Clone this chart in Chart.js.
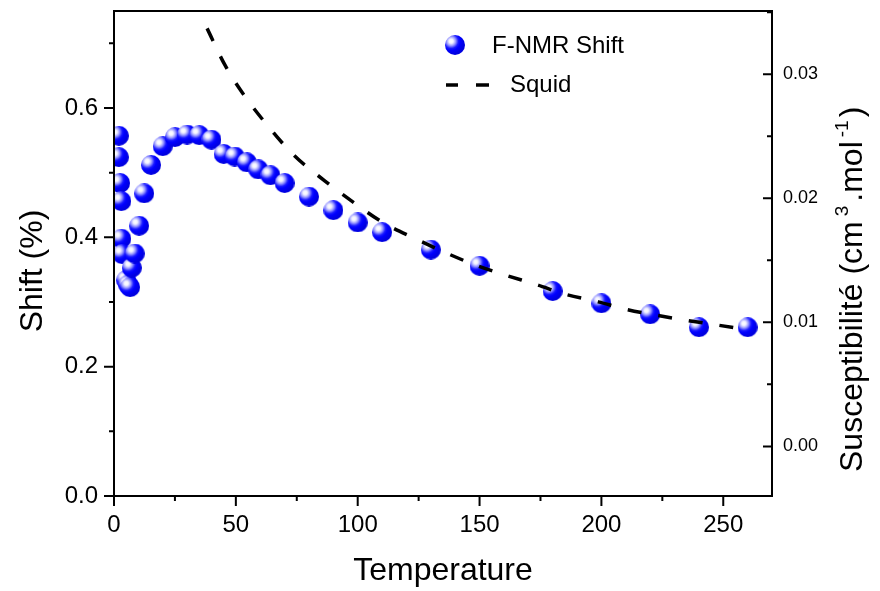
<!DOCTYPE html>
<html>
<head>
<meta charset="utf-8">
<script src="https://cdn.jsdelivr.net/npm/chart.js@4.4.1/dist/chart.umd.min.js"></script>
<style>
  html, body { margin: 0; padding: 0; background: #fff; }
  #wrap { width: 880px; height: 591px; }
</style>
</head>
<body>
<div id="wrap"><canvas id="chart" width="880" height="591"></canvas></div>
<script>
// F-NMR shift (%) against temperature
const nmrTemp = [2.0, 2.0, 2.5, 3.0, 3.0, 3.4, 5.0, 5.8, 6.6, 7.3, 8.5, 10.3, 12.4, 15.2,
  20, 25, 30, 35, 40, 45, 49.5, 54.5, 59.2, 64.2, 70, 80, 90, 100, 110, 130, 150, 180, 200, 220, 240, 260];
const nmrShift = [0.557, 0.524, 0.484, 0.456, 0.398, 0.374, 0.334, 0.327, 0.323, 0.353, 0.375, 0.418, 0.468, 0.512,
  0.541, 0.555, 0.559, 0.558, 0.551, 0.529, 0.525, 0.516, 0.505, 0.496, 0.484, 0.463, 0.442, 0.423, 0.408, 0.381,
  0.356, 0.317, 0.298, 0.281, 0.261, 0.261];

// SQUID susceptibility (cm3/mol) against temperature
const squidTemp = [38.2, 45.5, 53.3, 62.7, 73.9, 86.6, 98.9, 110.4, 123.5, 135.8, 148.8, 161.1,
  173.5, 185.1, 198.7, 210.4, 222, 235.7, 247.3, 260.3];
const squidChi = [0.0337, 0.03075, 0.02833, 0.02594, 0.02346, 0.02139, 0.01958, 0.01804, 0.01676, 0.01564,
  0.01458, 0.01378, 0.01303, 0.01227, 0.01165, 0.01104, 0.01059, 0.01014, 0.00979, 0.00939];

const FONT = '"Liberation Sans", Arial, sans-serif';
Chart.defaults.font.family = FONT;
Chart.defaults.color = '#000';

// shaded blue sphere used as the point marker
function makeBall(r) {
  const c = document.createElement('canvas');
  c.width = c.height = 2 * r;
  const g = c.getContext('2d');
  const hx = r - r * 0.38, hy = r - r * 0.38;
  const grad = g.createRadialGradient(hx, hy, 0, hx, hy, r * 1.3);
  grad.addColorStop(0, '#ffffff');
  grad.addColorStop(0.16, '#f2f2ff');
  grad.addColorStop(0.34, '#9c9cff');
  grad.addColorStop(0.55, '#1a1aff');
  grad.addColorStop(0.7, '#0000ff');
  grad.addColorStop(1, '#0000e0');
  g.fillStyle = grad;
  g.beginPath();
  g.arc(r, r, r, 0, Math.PI * 2);
  g.fill();
  return c;
}
const ball = makeBall(10);

// box, tick marks, axis titles and legend
const decor = {
  id: 'decor',
  afterDatasetsDraw(chart) {
    const { ctx, chartArea: a, scales } = chart;
    ctx.save();
    ctx.strokeStyle = '#000';
    ctx.lineWidth = 2;
    ctx.strokeRect(a.left, a.top, a.right - a.left, a.bottom - a.top);
    ctx.beginPath();
    scales.x.ticks.forEach(t => {
      const px = scales.x.getPixelForValue(t.value);
      ctx.moveTo(px, a.bottom);
      ctx.lineTo(px, a.bottom + (t.label ? 10 : 5));
    });
    scales.y.ticks.forEach(t => {
      const py = scales.y.getPixelForValue(t.value);
      ctx.moveTo(a.left, py);
      ctx.lineTo(a.left - (t.label ? 10 : 5), py);
    });
    scales.y1.ticks.forEach(t => {
      const py = scales.y1.getPixelForValue(t.value);
      ctx.moveTo(a.right, py);
      ctx.lineTo(a.right - (t.label ? 9 : 5), py);
    });
    ctx.stroke();

    ctx.fillStyle = '#000';
    ctx.textBaseline = 'alphabetic';

    // x title
    ctx.font = '32px ' + FONT;
    ctx.textAlign = 'center';
    ctx.fillText('Temperature', (a.left + a.right) / 2, 580);

    // left title
    ctx.save();
    ctx.translate(42, 271);
    ctx.rotate(-Math.PI / 2);
    ctx.fillText('Shift (%)', 0, 0);
    ctx.restore();

    // right title with superscripts
    ctx.save();
    ctx.translate(862, 472);
    ctx.rotate(-Math.PI / 2);
    ctx.textAlign = 'left';
    const parts = [
      ['Susceptibilité (cm', 32, 0, 5],
      ['3', 19, -14, 4],
      ['.mol', 32, 0, 4],
      ['-1', 19, -14, 3],
      [')', 32, 0, 0]
    ];
    let cx = 0;
    parts.forEach(([txt, size, dy, gap]) => {
      ctx.font = size + 'px ' + FONT;
      ctx.fillText(txt, cx, dy);
      cx += ctx.measureText(txt).width + gap;
    });
    ctx.restore();

    // legend
    ctx.drawImage(ball, 455 - 10, 45 - 10);
    ctx.font = '24px ' + FONT;
    ctx.textAlign = 'left';
    ctx.textBaseline = 'middle';
    ctx.fillText('F-NMR Shift', 492, 46);
    ctx.fillText('Squid', 510, 85);
    ctx.lineWidth = 3.5;
    ctx.beginPath();
    ctx.moveTo(446, 85); ctx.lineTo(458, 85);
    ctx.moveTo(476, 85); ctx.lineTo(489, 85);
    ctx.stroke();
    ctx.restore();
  }
};

new Chart(document.getElementById('chart'), {
  type: 'scatter',
  data: {
    datasets: [
      {
        label: 'Squid',
        data: squidTemp.map((t, i) => ({ x: t, y: squidChi[i] })),
        yAxisID: 'y1',
        showLine: true,
        borderColor: '#000',
        borderWidth: 3.5,
        borderDash: [14, 17],
        pointRadius: 0,
        cubicInterpolationMode: 'monotone',
        clip: 0,
        order: 0
      },
      {
        label: 'F-NMR Shift',
        data: nmrTemp.map((t, i) => ({ x: t, y: nmrShift[i] })),
        yAxisID: 'y',
        pointStyle: ball,
        pointRadius: 10,
        clip: 0,
        order: 1
      }
    ]
  },
  options: {
    responsive: false,
    animation: false,
    events: [],
    layout: { padding: { top: 6, left: 0, right: 0, bottom: 0 } },
    plugins: { legend: { display: false }, tooltip: { enabled: false } },
    scales: {
      x: {
        type: 'linear', min: 0, max: 270,
        grid: { display: false, drawTicks: false },
        border: { display: false },
        afterFit: s => { s.height = 95; s.paddingLeft = 0; s.paddingRight = 0; },
        ticks: {
          stepSize: 25, includeBounds: false, autoSkip: false, maxRotation: 0,
          padding: 15, font: { size: 24 },
          callback: v => (v % 50 === 0 ? String(v) : '')
        }
      },
      y: {
        position: 'left', min: 0, max: 0.75,
        grid: { display: false, drawTicks: false },
        border: { display: false },
        afterFit: s => { s.width = 114; s.paddingTop = 0; s.paddingBottom = 0; },
        ticks: {
          stepSize: 0.1, includeBounds: false, autoSkip: false,
          padding: 16, font: { size: 24 },
          callback: v => (Math.round(v * 10) % 2 === 0 ? v.toFixed(1) : '')
        }
      },
      y1: {
        position: 'right', min: -0.004, max: 0.0351,
        grid: { display: false, drawTicks: false },
        border: { display: false },
        afterFit: s => { s.width = 108; s.paddingTop = 0; s.paddingBottom = 0; },
        ticks: {
          stepSize: 0.005, includeBounds: false, autoSkip: false,
          padding: 11, font: { size: 18 },
          callback: v => (Math.round(v * 1000) % 10 === 0 ? v.toFixed(2) : '')
        }
      }
    }
  },
  plugins: [decor]
});
</script>
</body>
</html>
